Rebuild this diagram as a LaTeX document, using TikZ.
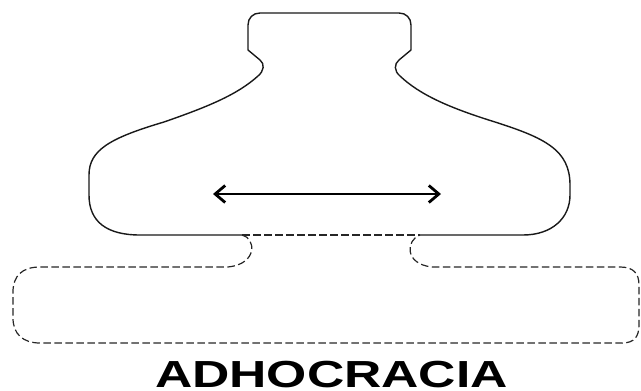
\documentclass[tikz,border=0pt]{standalone}
\usepackage{fontspec}
\setmainfont{Liberation Sans}
\usetikzlibrary{arrows.meta}
\tikzset{
  outline/.style={line width=1.4pt, draw=black!90, line join=round},
  dashline/.style={line width=1.2pt, draw=black!85, dash pattern=on 7.5pt off 3.5pt},
  flowarrow/.style={line width=2.8pt, {Straight Barb[length=10pt,width=17pt,line width=2.8pt]}-{Straight Barb[length=10pt,width=17pt,line width=2.8pt]}},
  titletext/.style={font=\fontsize{37.7}{40}\selectfont\bfseries, inner sep=0pt, anchor=base}
}
\begin{document}
\begin{tikzpicture}[x=1pt,y=-1pt]
\useasboundingbox (0,0) rectangle (641,391);
% upper bowl (solid outline, open at the bottom middle)
\draw[outline]
  (242,235) -- (140,235)
  .. controls (107,235) and (89,222) .. (89,195) -- (89,175)
  .. controls (89,150) and (110,138) .. (164,122)
  .. controls (207,107) and (237,95) .. (258,76)
  .. controls (264,71) and (265,64) .. (260,60) -- (248,50) -- (248,25)
  .. controls (248,18) and (253,13) .. (260,13) -- (399,13)
  .. controls (406,13) and (411,18) .. (411,25) -- (411,50) -- (399,60)
  .. controls (394,64) and (394,71) .. (400,76)
  .. controls (420,95) and (450,108) .. (495,122)
  .. controls (545,138) and (570,150) .. (570,185) -- (570,195)
  .. controls (570,218) and (552,235) .. (523,235) -- (420,235);
% dashed boundary between bowl and base
\draw[dashline] (242,235) -- (420,235);
% lower dashed base with neck
\draw[dashline]
  (242,235) .. controls (256,238) and (258,264) .. (228,267)
  -- (40,267) .. controls (22,267) and (13,276) .. (13,292) -- (13,318)
  .. controls (13,334) and (23,343) .. (40,343) -- (622,343)
  .. controls (634,343) and (639,337) .. (639,325) -- (639,285)
  .. controls (639,273) and (633,267) .. (620,267) -- (432,267)
  .. controls (404,264) and (406,240) .. (420,235);
% double arrow
\coordinate (aL) at (213,194);
\coordinate (aR) at (441,194);
\draw[flowarrow] (aL) -- (aR);
% title
\node[titletext] (title) at (331.5,387) {\scalebox{1.37}[1]{ADHOCRACIA}};
\end{tikzpicture}
\end{document}
